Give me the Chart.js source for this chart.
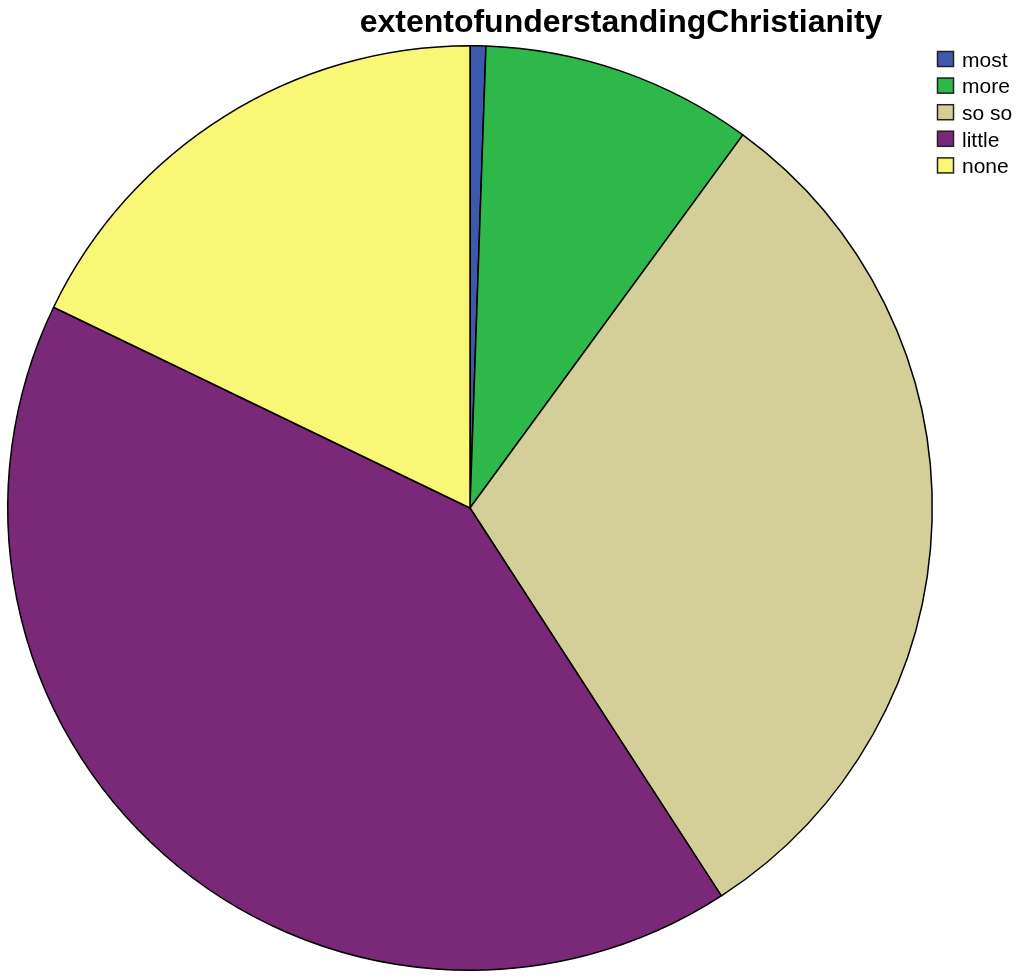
<!DOCTYPE html>
<html>
<head>
<meta charset="utf-8">
<script src="https://cdn.jsdelivr.net/npm/chart.js@4/dist/chart.umd.min.js"></script>
<style>
  html, body { margin: 0; padding: 0; background: #fff; }
  #wrap { width: 1024px; height: 979px; }
</style>
</head>
<body>
<div id="wrap"><canvas id="pieChart" width="1024" height="979"></canvas></div>
<script>
const chartTitle = 'extentofunderstandingChristianity';
const categories = ['most', 'more', 'so so', 'little', 'none'];
// percent of respondents
const percentValues = [0.55, 9.5, 30.8, 41.3, 17.85];
const sliceColors = ['#3e58ac', '#2fb84a', '#d4cf99', '#7a2979', '#fbf776'];

// title + legend drawn the way the original (SPSS-style) output lays them out
const sideDecor = {
    id: 'sideDecor',
    afterDraw(chart) {
        const ctx = chart.ctx;
        ctx.save();
        ctx.fillStyle = '#000';
        ctx.font = 'bold 32px "Liberation Sans", Arial, sans-serif';
        ctx.textAlign = 'center';
        ctx.textBaseline = 'middle';
        ctx.fillText(chartTitle, 621, 23);

        ctx.font = '21px "Liberation Sans", Arial, sans-serif';
        ctx.textAlign = 'left';
        categories.forEach((label, i) => {
            const y = 51 + i * 26.6;
            ctx.fillStyle = sliceColors[i];
            ctx.fillRect(937, y, 17, 16);
            ctx.strokeStyle = '#222';
            ctx.lineWidth = 1.5;
            ctx.strokeRect(937.5, y + 0.5, 16, 15);
            ctx.fillStyle = '#000';
            ctx.fillText(label, 962, y + 10);
        });
        ctx.restore();
    }
};

new Chart(document.getElementById('pieChart').getContext('2d'), {
    type: 'pie',
    data: {
        labels: categories,
        datasets: [{
            data: percentValues,
            backgroundColor: sliceColors,
            borderColor: '#000',
            borderWidth: 1.5
        }]
    },
    options: {
        responsive: false,
        animation: false,
        layout: { padding: { left: 7, right: 91, top: 45, bottom: 8 } },
        plugins: {
            legend: { display: false },
            title: { display: false },
            tooltip: { enabled: false }
        }
    },
    plugins: [sideDecor]
});
</script>
</body>
</html>
